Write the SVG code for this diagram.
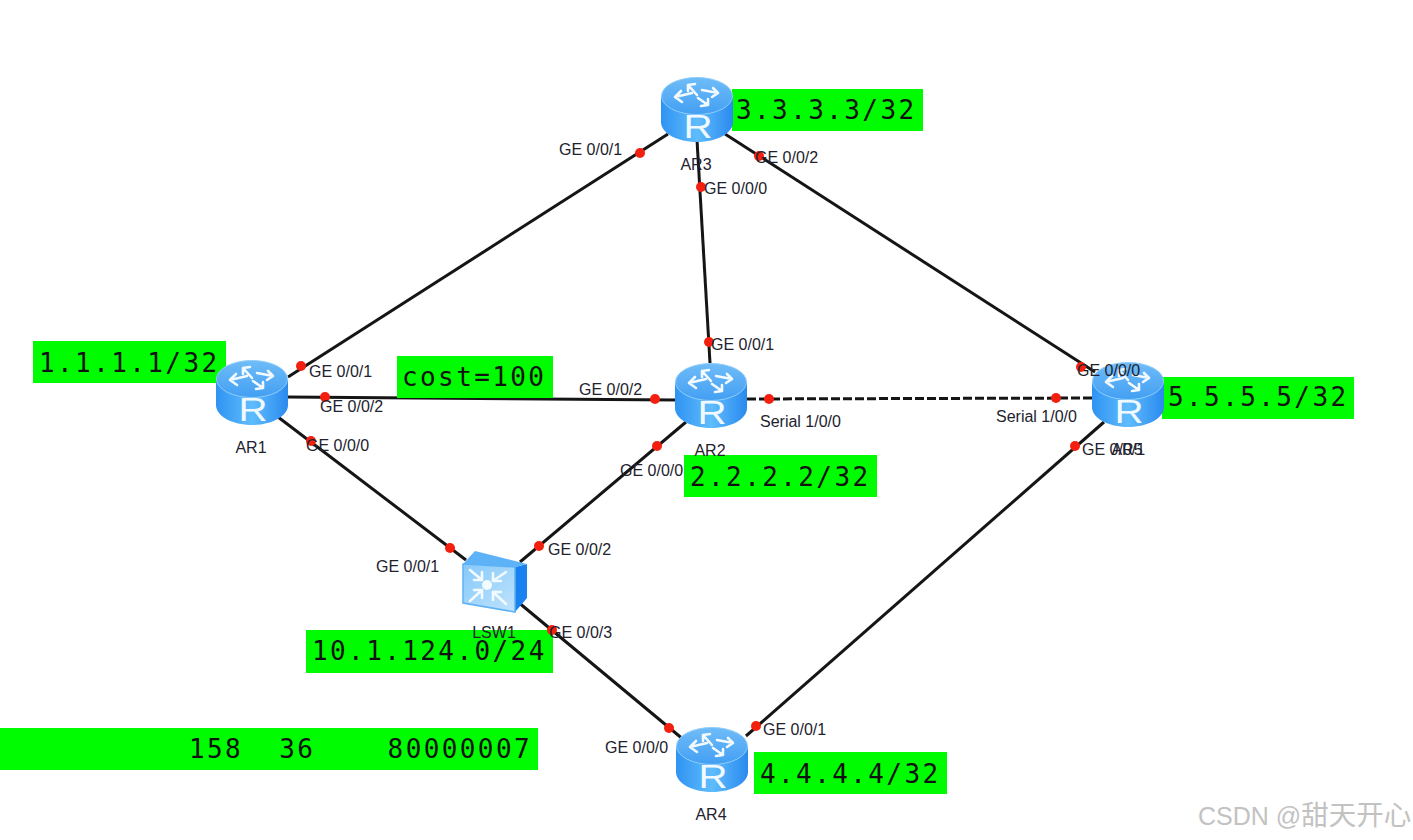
<svg xmlns="http://www.w3.org/2000/svg" width="1413" height="840" viewBox="0 0 1413 840">
<style>
.l{font-family:"Liberation Sans",Arial,sans-serif;font-size:16px;fill:#22222e}
.g{fill:#00fc00}
.m{font-family:"DejaVu Sans Mono","Liberation Mono",monospace;font-size:26px;letter-spacing:2.4px;fill:#111;white-space:pre}
.c{stroke:#151515;stroke-width:3;fill:none}
.d{fill:#f4200f}
.a{stroke:#f2faff;stroke-width:2.6;fill:none;stroke-linecap:round;stroke-linejoin:round}
</style>
<defs>
<linearGradient id="body" x1="0" x2="1" y1="0" y2="0"><stop offset="0" stop-color="#2f93f2"/><stop offset=".5" stop-color="#5fbcfd"/><stop offset="1" stop-color="#2a8aee"/></linearGradient>
<linearGradient id="top" x1="0" x2="0" y1="0" y2="1"><stop offset="0" stop-color="#6fbcf8"/><stop offset="1" stop-color="#439ff3"/></linearGradient>
<linearGradient id="sw" x1="0" x2="1" y1="0" y2="1"><stop offset="0" stop-color="#86c9fa"/><stop offset="1" stop-color="#bfe3fc"/></linearGradient>
<g id="router">
<path d="M0 20V45C0 56 16 65 36 65S72 56 72 45V20Z" fill="url(#body)"/>
<ellipse cx="36" cy="19" rx="35.5" ry="18.5" fill="url(#top)" stroke="#8fcdfb" stroke-width="1"/>
<g class="a">
<path d="M36 18L27 8M27 8L34 7M27 8L27 14"/>
<path d="M41 13L57 16M57 16L52 11M57 16L51 20"/>
<path d="M37 21L47 28M47 28L47 22M47 28L40 29"/>
<path d="M31 16L14 20M14 20L20 14M14 20L21 25"/>
</g>
<text transform="translate(37 61) scale(1.22 1)" text-anchor="middle" font-family="Liberation Sans,sans-serif" font-size="33" fill="#f0f9ff">R</text>
</g>
</defs>
<rect width="1413" height="840" fill="#fff"/>

<g id="connectors" class="c">
<line x1="288" y1="377" x2="668" y2="134"/>
<line x1="288" y1="397" x2="676" y2="400"/>
<line x1="278" y1="417" x2="466" y2="560"/>
<line x1="697" y1="140" x2="710" y2="363"/>
<line x1="725" y1="134" x2="1095" y2="372"/>
<line x1="747" y1="399" x2="1092" y2="398" stroke-dasharray="9 3"/>
<line x1="686" y1="422" x2="520" y2="562"/>
<line x1="518" y1="602" x2="690" y2="745"/>
<line x1="746" y1="736" x2="1104" y2="422"/>
</g>

<g id="box-cost"><rect class="g" x="397" y="356" width="156" height="42"/><text class="m" x="402" y="386">cost=100</text></g>
<g id="box-net"><rect class="g" x="306" y="630" width="247" height="43"/><text class="m" x="312" y="660">10.1.124.0/24</text></g>
<g id="box-lsa"><rect class="g" x="0" y="728" width="538" height="42"/><text class="m" x="189" y="758" xml:space="preserve">158  36    80000007</text></g>

<g id="AR1"><rect class="g" x="33" y="341" width="193" height="42"/><text class="m" x="39" y="372">1.1.1.1/32</text><use href="#router" x="216" y="360"/><text class="l" x="251" y="453" text-anchor="middle">AR1</text></g>
<g id="AR2"><rect class="g" x="684" y="455" width="193" height="42"/><text class="m" x="690" y="486">2.2.2.2/32</text><use href="#router" x="675" y="363"/><text class="l" x="710" y="456" text-anchor="middle">AR2</text></g>
<g id="AR3"><rect class="g" x="732" y="89" width="191" height="42"/><text class="m" x="736" y="119">3.3.3.3/32</text><use href="#router" x="661" y="77"/><text class="l" x="696" y="170" text-anchor="middle">AR3</text></g>
<g id="AR4"><rect class="g" x="754" y="752" width="193" height="42"/><text class="m" x="760" y="783">4.4.4.4/32</text><use href="#router" x="676" y="727"/><text class="l" x="711" y="820" text-anchor="middle">AR4</text></g>
<g id="AR5"><rect class="g" x="1162" y="377" width="192" height="42"/><text class="m" x="1168" y="406">5.5.5.5/32</text><use href="#router" x="1092" y="362"/><text class="l" x="1127" y="455" text-anchor="middle">AR5</text></g>
<g id="LSW1">
<path d="M515 567L527 564L527 598L515 612Z" fill="#1a82f0"/>
<path d="M463 564L475 551L527 564L515 567Z" fill="#5db2f8"/>
<path d="M463 564L515 567L515 612L463 603Z" fill="url(#sw)" stroke="#5db2f6" stroke-width="1.5"/>
<g class="a" stroke-width="3">
<path d="M470 570L482 580M482 572V580H474"/><path d="M506 572L493 581M493 573V581H501"/><path d="M470 601L482 590M482 598V590H474"/><path d="M506 604L493 592M493 600V592H501"/>
</g>
<circle cx="487" cy="585" r="5" fill="#f4fbff"/>
<text class="l" x="494" y="638" text-anchor="middle">LSW1</text>
</g>

<g id="ports">
<g class="d">
<circle cx="301" cy="366" r="5"/><circle cx="325" cy="397" r="5"/><circle cx="311" cy="441" r="5"/>
<circle cx="640" cy="153" r="5"/><circle cx="701" cy="187" r="5"/><circle cx="759" cy="156" r="5"/>
<circle cx="709" cy="342" r="5"/><circle cx="655" cy="399" r="5"/><circle cx="769" cy="399" r="5"/><circle cx="657" cy="446" r="5"/>
<circle cx="1056" cy="398" r="5"/><circle cx="1081" cy="367" r="5"/><circle cx="1075" cy="446" r="5"/>
<circle cx="450" cy="548" r="5"/><circle cx="539" cy="546" r="5"/><circle cx="552" cy="630" r="5"/>
<circle cx="669" cy="728" r="5"/><circle cx="756" cy="726" r="5"/>
</g>
<text class="l" x="309" y="377">GE 0/0/1</text><text class="l" x="320" y="412">GE 0/0/2</text><text class="l" x="306" y="451">GE 0/0/0</text>
<text class="l" x="559" y="155">GE 0/0/1</text><text class="l" x="704" y="194">GE 0/0/0</text><text class="l" x="755" y="163">GE 0/0/2</text>
<text class="l" x="711" y="350">GE 0/0/1</text><text class="l" x="579" y="395">GE 0/0/2</text><text class="l" x="760" y="427">Serial 1/0/0</text><text class="l" x="620" y="476">GE 0/0/0</text>
<text class="l" x="996" y="422">Serial 1/0/0</text><text class="l" x="1077" y="376">GE 0/0/0</text><text class="l" x="1082" y="455">GE 0/0/1</text>
<text class="l" x="376" y="572">GE 0/0/1</text><text class="l" x="548" y="555">GE 0/0/2</text><text class="l" x="549" y="638">GE 0/0/3</text>
<text class="l" x="605" y="753">GE 0/0/0</text><text class="l" x="763" y="735">GE 0/0/1</text>
</g>
<text x="1198" y="825" font-family="Liberation Sans,'Noto Sans CJK SC',sans-serif" font-size="25" fill="#c2c2c2">CSDN @<tspan font-size="27.5">甜天开心</tspan></text>
</svg>
